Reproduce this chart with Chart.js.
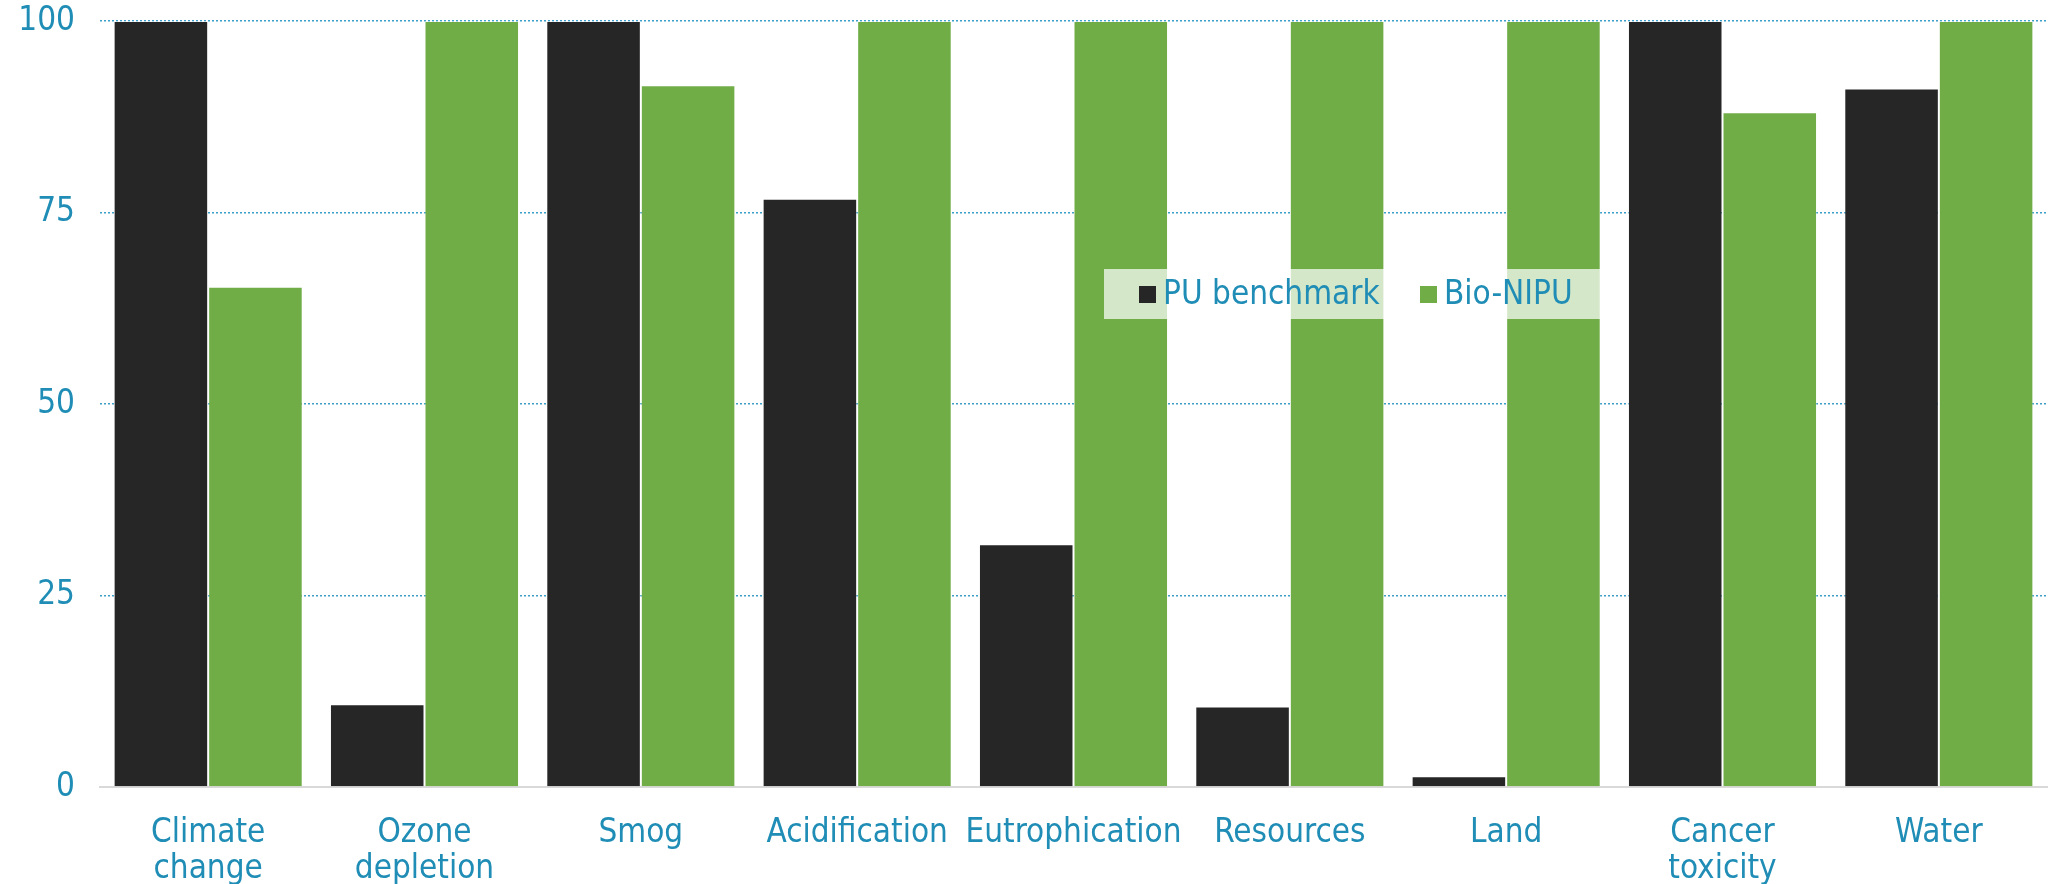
<!DOCTYPE html>
<html>
<head>
<meta charset="utf-8">
<script src="https://cdn.jsdelivr.net/npm/chart.js@4"></script>
<style>
  html, body { margin: 0; padding: 0; background: #ffffff; }
  #wrap { position: relative; width: 2049px; height: 884px; }
</style>
</head>
<body>
<div id="wrap"><canvas id="chart"></canvas></div>
<script>
// Impact categories (two-line labels where the axis wraps them)
const categories = [
  ['Climate', 'change'],
  ['Ozone', 'depletion'],
  'Smog',
  'Acidification',
  'Eutrophication',
  'Resources',
  'Land',
  ['Cancer', 'toxicity'],
  'Water'
];

// Relative impact scores (highest product = 100)
const puBenchmark = [100, 10.8, 100, 76.8, 31.7, 10.5, 1.4, 100, 91.2];
const bioNipu     = [65.3, 100, 91.6, 100, 100, 100, 100, 88.1, 100];

const seriesNames = ['PU benchmark', 'Bio-NIPU'];
const yTicks = [0, 25, 50, 75, 100];

const TEXT_COLOR = '#1f8db5';
const FONT_FAMILY = "'DejaVu Sans Condensed', 'DejaVu Sans', sans-serif";
const DARK = '#262626';
const GREEN = '#70ad47';

// Legend box drawn inside the plot area
const insideLegend = {
  id: 'insideLegend',
  afterDraw(chart) {
    const ctx = chart.ctx;
    const box = { x: 1104, y: 269, w: 502, h: 50 };
    ctx.save();
    ctx.fillStyle = 'rgba(255,255,255,0.7)';
    ctx.fillRect(box.x, box.y, box.w, box.h);
    ctx.font = '33px ' + FONT_FAMILY;
    ctx.textBaseline = 'middle';
    ctx.textAlign = 'left';
    const cy = box.y + box.h / 2;
    const entries = [
      { x: 1139, ds: chart.data.datasets[0] },
      { x: 1420, ds: chart.data.datasets[1] }
    ];
    entries.forEach(e => {
      ctx.fillStyle = e.ds.backgroundColor;
      ctx.fillRect(e.x, cy - 8, 17, 17);
      ctx.fillStyle = TEXT_COLOR;
      ctx.fillText(e.ds.label, e.x + 24, cy + 1);
    });
    ctx.restore();
  }
};

new Chart(document.getElementById('chart'), {
  type: 'bar',
  data: {
    labels: categories,
    datasets: [
      {
        label: seriesNames[0],
        data: puBenchmark,
        backgroundColor: DARK,
        borderColor: 'rgba(255,255,255,0.35)',
        borderWidth: 1
      },
      {
        label: seriesNames[1],
        data: bioNipu,
        backgroundColor: GREEN,
        borderColor: 'rgba(255,255,255,0.25)',
        borderWidth: 1
      }
    ]
  },
  options: {
    responsive: true,
    maintainAspectRatio: false,
    devicePixelRatio: 1,
    animation: false,
    layout: { padding: { top: 21, right: 2, left: 0, bottom: 0 } },
    datasets: {
      bar: { categoryPercentage: 0.874, barPercentage: 1.0 }
    },
    plugins: {
      legend: { display: false },
      tooltip: { enabled: false }
    },
    scales: {
      x: {
        grid: { display: false, drawTicks: false },
        border: { display: true, color: '#d9d9d9', width: 2 },
        ticks: {
          color: TEXT_COLOR,
          padding: 29,
          maxRotation: 0,
          autoSkip: false,
          font: { family: FONT_FAMILY, size: 33, lineHeight: 1.07 }
        },
        afterFit(scale) { scale.height = 97; }
      },
      y: {
        min: 0,
        max: 100,
        afterBuildTicks(scale) {
          scale.ticks = yTicks.map(v => ({ value: v }));
        },
        grid: {
          color: '#3d9fc9',
          lineWidth: 1.5,
          drawTicks: true,
          tickLength: 23,
          tickColor: 'rgba(0,0,0,0)'
        },
        border: { display: false, dash: [2, 2] },
        ticks: {
          color: TEXT_COLOR,
          padding: 2,
          font: { family: FONT_FAMILY, size: 33, lineHeight: 1.0 }
        },
        afterFit(scale) { scale.width = 100; }
      }
    }
  },
  plugins: [insideLegend]
});
</script>
</body>
</html>
